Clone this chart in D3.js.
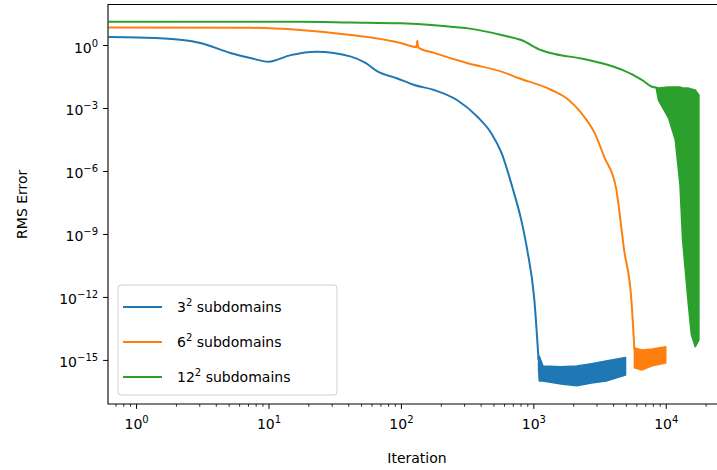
<!DOCTYPE html>
<html>
<head>
<meta charset="utf-8">
<script src="https://cdn.jsdelivr.net/npm/d3@7"></script>
<style>
  body { margin: 0; background: #fff; }
  text { font-family: "DejaVu Sans", sans-serif; fill: #000; }
</style>
</head>
<body>
<svg width="717" height="470"></svg>
<script>
// ***Data***
// 3^2 subdomains: smooth part, then the noisy floor as a band
var blueIter = [0.62, 1.52, 3.05, 5.15, 7.3, 10, 14.7, 23, 42, 54, 67, 92, 126, 178, 265, 380, 480, 575, 705, 810, 900, 1018, 1095];
var blueRms  = [2.4, 2.1, 1.25, 0.42, 0.24, 0.16, 0.33, 0.48, 0.28, 0.14, 0.054, 0.027, 0.0125, 0.0072, 0.0024, 3.7e-4, 6.5e-5, 7.2e-6, 1.2e-7, 4.7e-9, 1.7e-10, 7.2e-13, 1e-15];
var blueBandIter = [1095, 1110, 1180, 1620, 2130, 2750, 3550, 4970];
var blueBandHi   = [1.3e-15, 1.5e-15, 5.2e-16, 4.7e-16, 5.2e-16, 6.5e-16, 8.9e-16, 1.3e-15];
var blueBandLo   = [3.3e-16, 1.0e-16, 1.0e-16, 7.2e-17, 5.8e-17, 8e-17, 1.0e-16, 1.9e-16];

// 6^2 subdomains
var orangeIter = [0.62, 7.3, 17.4, 41.8, 100, 131, 133, 135, 178, 320, 575, 770, 1370, 1850, 2300, 2900, 3430, 4200, 4850, 5500, 5800];
var orangeRms  = [6.9, 6.6, 5.2, 3.0, 1.25, 0.8, 1.6, 0.77, 0.42, 0.135, 0.054, 0.027, 0.0072, 0.0024, 5.8e-4, 6.5e-5, 4.7e-6, 1.7e-7, 1.7e-10, 7.2e-13, 3e-15];
var orangeBandIter = [5800, 6600, 7900, 10000];
var orangeBandHi   = [3.7e-15, 3.0e-15, 3.3e-15, 4.2e-15];
var orangeBandLo   = [4.2e-16, 3.3e-16, 5.2e-16, 7.2e-16];

// 12^2 subdomains: smooth part, then the oscillating tail as a band
var greenIter = [0.62, 17.4, 41.8, 100, 240, 322, 575, 810, 1140, 1450, 2300, 3300, 4700, 6600, 7900, 8500];
var greenRms  = [12.9, 12.9, 11.8, 10.8, 7.5, 6.2, 3.0, 1.73, 0.58, 0.37, 0.23, 0.135, 0.065, 0.022, 0.0103, 0.0095];
var greenBandIter = [8500, 8800, 10500, 11800, 12800, 13400, 14700, 15600, 16700, 17800];
var greenBandHi   = [0.0095, 0.0089, 0.01, 0.01, 0.01, 0.0089, 0.0089, 0.008, 0.0072, 0.0042];
var greenBandLo   = [0.008, 0.0024, 3.3e-4, 3e-5, 2.2e-7, 5.2e-10, 7.2e-13, 1.6e-14, 4.2e-15, 9e-15];

var seriesNames = ["3", "6", "12"];
var colors = ["#1f77b4", "#ff7f0e", "#2ca02c"];
var xTicks = [1e0, 1e1, 1e2, 1e3, 1e4];
var yTicks = [1e0, 1e-3, 1e-6, 1e-9, 1e-12, 1e-15];

//***Scales***
var svg = d3.select("svg");
var pLeft = 108, pRight = 726, pTop = 4.5, pBottom = 404;

var x = d3.scaleLog().domain([Math.pow(10, -0.212), Math.pow(10, 4.455)]).range([pLeft, pRight]);
var y = d3.scaleLog().domain([Math.pow(10, -17.1), Math.pow(10, 1.93)]).range([pBottom, pTop]);

svg.append("clipPath").attr("id", "clip")
  .append("rect").attr("x", pLeft).attr("y", pTop).attr("width", pRight - pLeft).attr("height", pBottom - pTop);

var gPlot = svg.append("g").attr("clip-path", "url(#clip)");

var line = d3.line().x(d => x(d[0])).y(d => y(d[1])).curve(d3.curveMonotoneX);
var area = d3.area().x(d => x(d[0])).y0(d => y(d[2])).y1(d => y(d[1]));

var lines = [
  { iter: blueIter, rms: blueRms, bi: blueBandIter, hi: blueBandHi, lo: blueBandLo },
  { iter: orangeIter, rms: orangeRms, bi: orangeBandIter, hi: orangeBandHi, lo: orangeBandLo },
  { iter: greenIter, rms: greenRms, bi: greenBandIter, hi: greenBandHi, lo: greenBandLo }
];

lines.forEach(function(s, i) {
  gPlot.append("path")
    .datum(s.iter.map((v, k) => [v, s.rms[k]]))
    .attr("d", line)
    .attr("fill", "none")
    .attr("stroke", colors[i])
    .attr("stroke-width", 2)
    .attr("stroke-linejoin", "round");

  gPlot.append("path")
    .datum(s.bi.map((v, k) => [v, s.hi[k], s.lo[k]]))
    .attr("d", area)
    .attr("fill", colors[i])
    .attr("stroke", colors[i])
    .attr("stroke-width", 1.5)
    .attr("stroke-linejoin", "round");
});

//***Axes***
function supLabel(sel, expFn) {
  sel.each(function(d) {
    var t = d3.select(this).text("");
    t.append("tspan").text("10");
    t.append("tspan").attr("dy", -6).attr("font-size", "10px").text(expFn(d));
  });
}
function expOf(d) { return String(Math.round(Math.log10(d))).replace("-", "\u2212"); }

var xMinor = [];
for (var e = -1; e <= 4; e++) for (var m = 2; m <= 9; m++) {
  var v = m * Math.pow(10, e);
  if (v >= x.domain()[0] && v <= x.domain()[1]) xMinor.push(v);
}

svg.append("g")
  .attr("transform", "translate(0," + pBottom + ")")
  .call(d3.axisBottom(x).tickValues(xMinor).tickSize(2.8).tickFormat(""))
  .call(g => g.select(".domain").remove())
  .selectAll("line").attr("stroke", "#000").attr("stroke-width", 0.8);

var gx = svg.append("g")
  .attr("transform", "translate(0," + pBottom + ")")
  .call(d3.axisBottom(x).tickValues(xTicks).tickSize(4.9).tickPadding(5));
gx.select(".domain").remove();
gx.selectAll("line").attr("stroke", "#000").attr("stroke-width", 1);
gx.selectAll("text").attr("font-size", "14px").attr("font-family", "DejaVu Sans").attr("fill", "#000")
  .attr("dy", "1.05em").call(supLabel, expOf);

var gy = svg.append("g")
  .attr("transform", "translate(" + pLeft + ",0)")
  .call(d3.axisLeft(y).tickValues(yTicks).tickSize(4.9).tickPadding(5));
gy.select(".domain").remove();
gy.selectAll("line").attr("stroke", "#000").attr("stroke-width", 1);
gy.selectAll("text").attr("font-size", "14px").attr("font-family", "DejaVu Sans").attr("fill", "#000")
  .attr("dy", "0.5em").call(supLabel, expOf);

// spines
svg.append("path")
  .attr("d", "M" + pRight + "," + pTop + "H" + pLeft + "V" + pBottom + "H" + pRight)
  .attr("fill", "none")
  .attr("stroke", "#000")
  .attr("stroke-width", 1.1);

// axis labels
svg.append("text")
  .attr("x", (pLeft + pRight) / 2)
  .attr("y", 463)
  .attr("text-anchor", "middle")
  .attr("font-size", "14px")
  .text("Iteration");

svg.append("text")
  .attr("transform", "translate(27," + ((pTop + pBottom) / 2) + ") rotate(-90)")
  .attr("text-anchor", "middle")
  .attr("font-size", "14px")
  .text("RMS Error");

//***Legend***
var gLeg = svg.append("g");
gLeg.append("rect")
  .attr("x", 118).attr("y", 285).attr("width", 219).attr("height", 110)
  .attr("rx", 3)
  .attr("fill", "#fff").attr("fill-opacity", 0.8)
  .attr("stroke", "#d0d0d0").attr("stroke-width", 1);

seriesNames.forEach(function(n, i) {
  var yy = 307 + i * 35;
  gLeg.append("line")
    .attr("x1", 123).attr("x2", 162).attr("y1", yy).attr("y2", yy)
    .attr("stroke", colors[i]).attr("stroke-width", 2);
  var t = gLeg.append("text")
    .attr("x", 177).attr("y", yy + 5)
    .attr("font-size", "14px");
  t.append("tspan").text(n);
  t.append("tspan").attr("dy", -6).attr("font-size", "10px").text("2");
  t.append("tspan").attr("dy", 6).text(" subdomains");
});
</script>
</body>
</html>
